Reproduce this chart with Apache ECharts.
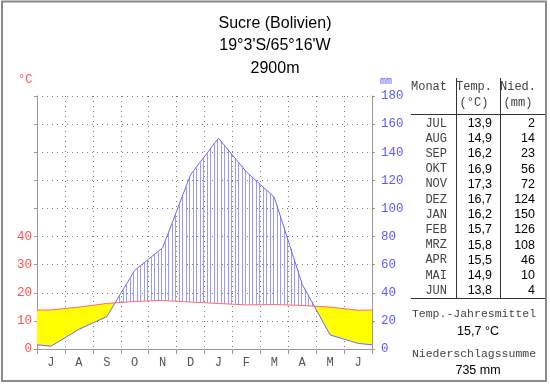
<!DOCTYPE html>
<html><head><meta charset="utf-8">
<script src="https://cdn.jsdelivr.net/npm/echarts@6/dist/echarts.min.js"></script>
<style>html,body{margin:0;padding:0;background:#fff}#c{width:550px;height:384px}</style>
</head><body><div id="c"></div>
<script>
var monthLetters = ['J','A','S','O','N','D','J','F','M','A','M','J'];
var tableMonths = ['JUL','AUG','SEP','OKT','NOV','DEZ','JAN','FEB','MRZ','APR','MAI','JUN'];
var temperature = [13.9,14.9,16.2,16.9,17.3,16.7,16.2,15.7,15.8,15.5,14.9,13.8];
var precipitation = [2,14,23,56,72,124,150,126,108,46,10,4];
var tempTicks = [0,10,20,30,40];
var precipMax = 180;
var titleLines = ['Sucre (Bolivien)', "19°3'S/65°16'W", '2900m'];

var MONO = '"Liberation Mono", "DejaVu Sans Mono", monospace';
var SANS = '"Liberation Sans", Arial, sans-serif';

var n = temperature.length;
var edgeT = (temperature[n-1] + temperature[0]) / 2;
var edgeP = (precipitation[n-1] + precipitation[0]) / 2 / 2;
var xs = [0], T = [edgeT], P = [edgeP];
for (var i = 0; i < n; i++) { xs.push(i + 0.5); T.push(temperature[i]); P.push(precipitation[i] / 2); }
xs.push(n); T.push(edgeT); P.push(edgeP);
var tempLine = xs.map(function (x, i) { return [x, T[i]]; });
var precLine = xs.map(function (x, i) { return [x, P[i]]; });

function interp(arr, x) {
  for (var i = 0; i < xs.length - 1; i++) {
    if (x >= xs[i] && x <= xs[i+1]) {
      var t = (x - xs[i]) / (xs[i+1] - xs[i]);
      return arr[i] + t * (arr[i+1] - arr[i]);
    }
  }
  return arr[arr.length - 1];
}

function renderFill(params, api) {
  var children = [];
  var top = [], bot = [];
  function flush() {
    if (top.length > 1) {
      var pts = top.concat(bot.slice().reverse()).map(function (p) { return api.coord(p); });
      children.push({ type: 'polygon', shape: { points: pts }, style: { fill: '#ffff00', stroke: null } });
    }
    top = []; bot = [];
  }
  for (var i = 0; i < xs.length; i++) {
    var d = T[i] - P[i];
    if (i > 0) {
      var dp = T[i-1] - P[i-1];
      if ((dp > 0) !== (d > 0)) {
        var t = dp / (dp - d);
        var xc = xs[i-1] + t * (xs[i] - xs[i-1]);
        var yc = T[i-1] + t * (T[i] - T[i-1]);
        top.push([xc, yc]); bot.push([xc, yc]);
        if (dp > 0) flush();
      }
    }
    if (d > 0) { top.push([xs[i], T[i]]); bot.push([xs[i], P[i]]); }
  }
  flush();
  var pxPerMonth = api.coord([1, 0])[0] - api.coord([0, 0])[0];
  var step = 3.5 / pxPerMonth;
  for (var x = step / 2; x < n; x += step) {
    var tv = interp(T, x), pv = interp(P, x);
    if (pv > tv) {
      var a = api.coord([x, pv]), b = api.coord([x, tv]);
      var px = Math.round(a[0]) + 0.5;
      children.push({ type: 'line', shape: { x1: px, y1: a[1], x2: px, y2: b[1] }, style: { stroke: '#9a9aff', lineWidth: 1 } });
    }
  }
  return { type: 'group', children: children };
}

var g = [];
g.push({ type: 'rect', shape: { x: 2, y: 1.5, width: 544, height: 379.5 }, style: { fill: null, stroke: '#8a8a8a', lineWidth: 2 }, z: 100 });
g.push({ type: 'text', left: 18, top: 74, style: { text: '°C', fill: '#ff5050', font: '12px ' + MONO } });
g.push({ type: 'text', left: 380, top: 76, style: { text: 'mm', fill: '#5a5aff', font: '10px ' + MONO } });
function txt(x, y, s, align, font, color) {
  g.push({ type: 'text', x: x, y: y, style: { text: s, textAlign: align, textVerticalAlign: 'middle', font: font, fill: color } });
}
var hdrFont = '12px ' + MONO;
var monoCol = '#444';
txt(429, 87, 'Monat', 'center', hdrFont, monoCol);
txt(474, 87, 'Temp.', 'center', hdrFont, monoCol);
txt(474, 103, '(°C)', 'center', hdrFont, monoCol);
txt(518, 87, 'Nied.', 'center', hdrFont, monoCol);
txt(518, 103, '(mm)', 'center', hdrFont, monoCol);
g.push({ type: 'line', shape: { x1: 456.5, y1: 78, x2: 456.5, y2: 298 }, style: { stroke: '#333', lineWidth: 1 } });
g.push({ type: 'line', shape: { x1: 500.5, y1: 78, x2: 500.5, y2: 298 }, style: { stroke: '#333', lineWidth: 1 } });
g.push({ type: 'line', shape: { x1: 411, y1: 114.5, x2: 545, y2: 114.5 }, style: { stroke: '#333', lineWidth: 1 } });
g.push({ type: 'line', shape: { x1: 411, y1: 298.5, x2: 545, y2: 298.5 }, style: { stroke: '#333', lineWidth: 1 } });
for (var r = 0; r < n; r++) {
  var y = 123.5 + r * 15.2;
  txt(447, y, tableMonths[r], 'right', '12px ' + MONO, monoCol);
  txt(492, y, temperature[r].toFixed(1).replace('.', ','), 'right', '12.5px ' + SANS, '#000');
  txt(535, y, String(precipitation[r]), 'right', '12.5px ' + SANS, '#000');
}
var meanT = temperature.reduce(function (a, b) { return a + b; }, 0) / n;
var sumP = precipitation.reduce(function (a, b) { return a + b; }, 0);
txt(474, 314, 'Temp.-Jahresmittel', 'center', '11.5px ' + MONO, monoCol);
txt(478, 332, meanT.toFixed(1).replace('.', ',') + ' °C', 'center', '12.5px ' + SANS, '#000');
txt(474, 354, 'Niederschlagssumme', 'center', '11.5px ' + MONO, monoCol);
txt(478, 371, sumP + ' mm', 'center', '12.5px ' + SANS, '#000');

var chart = echarts.init(document.getElementById('c'), null, { renderer: 'canvas' });
chart.setOption({
  animation: false,
  backgroundColor: '#fff',
  title: {
    text: titleLines.join('\n'), left: 'center', top: 7,
    textStyle: { fontFamily: SANS, fontSize: 16, fontWeight: 'normal', color: '#000', lineHeight: 22.5 }
  },
  grid: { left: 37, right: 178, top: 96, bottom: 35 },
  xAxis: [{
    type: 'value', min: 0, max: 12, interval: 1,
    axisLine: { show: true, lineStyle: { color: '#999' } },
    axisTick: { show: true, length: 5, lineStyle: { color: '#999' } },
    axisLabel: { show: false },
    splitLine: { show: true, lineStyle: { color: '#777', type: [1, 4] } }
  }, {
    type: 'category', data: monthLetters, boundaryGap: true, position: 'bottom',
    axisLine: { show: false }, axisTick: { show: false }, splitLine: { show: false },
    axisLabel: { margin: 8, color: '#555', fontFamily: MONO, fontSize: 12 }
  }],
  yAxis: [{
    type: 'value', min: 0, max: precipMax / 2, interval: 10, position: 'left',
    axisLine: { show: true, lineStyle: { color: '#999' } },
    axisTick: { show: true, length: 3, lineStyle: { color: '#999' } },
    axisLabel: { margin: 5, color: '#ff5050', fontFamily: MONO, fontSize: 12.5,
      formatter: function (v) { return tempTicks.indexOf(v) >= 0 ? String(v) : ''; } },
    splitLine: { show: true, lineStyle: { color: '#777', type: [1, 4] } }
  }, {
    type: 'value', min: 0, max: precipMax, interval: 20, position: 'right',
    axisLine: { show: true, lineStyle: { color: '#999' } },
    axisTick: { show: true, length: 3, lineStyle: { color: '#999' } },
    axisLabel: { margin: 9, color: '#5a5aff', fontFamily: MONO, fontSize: 12.5 },
    splitLine: { show: false }
  }],
  series: [{
    type: 'custom', xAxisIndex: 0, yAxisIndex: 0, renderItem: renderFill, data: [[0, 0]], z: 1, silent: true
  }, {
    type: 'line', xAxisIndex: 0, yAxisIndex: 0, data: precLine, showSymbol: false, symbol: 'none', z: 3,
    lineStyle: { color: '#6a6aff', width: 1 }
  }, {
    type: 'line', xAxisIndex: 0, yAxisIndex: 0, data: tempLine, showSymbol: false, symbol: 'none', z: 4,
    lineStyle: { color: '#ff6a6a', width: 1 }
  }],
  graphic: g
});
</script>
</body></html>
